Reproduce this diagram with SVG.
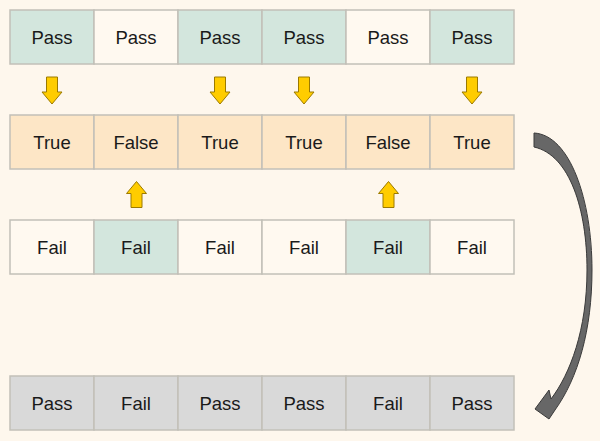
<svg xmlns="http://www.w3.org/2000/svg" width="600" height="441" viewBox="0 0 600 441">
<style>
.c{stroke:#c2c0b8;stroke-width:1.5}
.t{fill:#d3e6dd}.w{fill:#fff9f0}.o{fill:#fde6c6}.g{fill:#d9d9d9}
text{font-family:"Liberation Sans",Arial,sans-serif;font-size:18.5px;fill:#1a1a1a;text-anchor:middle}
.ya{fill:#ffcc00;stroke:#9c7a00;stroke-width:1}
</style>
<defs>
<path id="down" class="ya" d="M-5.5,-13 H5.5 V2 H10 L0,14 L-10,2 H-5.5 Z"/>
<path id="up" class="ya" d="M-5.5,13 H5.5 V-1 H10 L0,-13 L-10,-1 H-5.5 Z"/>
</defs>
<rect width="600" height="441" fill="#fef7ed"/>
<g id="row1">
<g id="r1c1"><rect class="c t" x="10" y="10" width="84" height="54"/><text x="52" y="44">Pass</text></g>
<g id="r1c2"><rect class="c w" x="94" y="10" width="84" height="54"/><text x="136" y="44">Pass</text></g>
<g id="r1c3"><rect class="c t" x="178" y="10" width="84" height="54"/><text x="220" y="44">Pass</text></g>
<g id="r1c4"><rect class="c t" x="262" y="10" width="84" height="54"/><text x="304" y="44">Pass</text></g>
<g id="r1c5"><rect class="c w" x="346" y="10" width="84" height="54"/><text x="388" y="44">Pass</text></g>
<g id="r1c6"><rect class="c t" x="430" y="10" width="84" height="54"/><text x="472" y="44">Pass</text></g>
</g>
<g id="row2">
<g id="r2c1"><rect class="c o" x="10" y="115" width="84" height="54"/><text x="52" y="149">True</text></g>
<g id="r2c2"><rect class="c o" x="94" y="115" width="84" height="54"/><text x="136" y="149">False</text></g>
<g id="r2c3"><rect class="c o" x="178" y="115" width="84" height="54"/><text x="220" y="149">True</text></g>
<g id="r2c4"><rect class="c o" x="262" y="115" width="84" height="54"/><text x="304" y="149">True</text></g>
<g id="r2c5"><rect class="c o" x="346" y="115" width="84" height="54"/><text x="388" y="149">False</text></g>
<g id="r2c6"><rect class="c o" x="430" y="115" width="84" height="54"/><text x="472" y="149">True</text></g>
</g>
<g id="row3">
<g id="r3c1"><rect class="c w" x="10" y="220" width="84" height="54"/><text x="52" y="254">Fail</text></g>
<g id="r3c2"><rect class="c t" x="94" y="220" width="84" height="54"/><text x="136" y="254">Fail</text></g>
<g id="r3c3"><rect class="c w" x="178" y="220" width="84" height="54"/><text x="220" y="254">Fail</text></g>
<g id="r3c4"><rect class="c w" x="262" y="220" width="84" height="54"/><text x="304" y="254">Fail</text></g>
<g id="r3c5"><rect class="c t" x="346" y="220" width="84" height="54"/><text x="388" y="254">Fail</text></g>
<g id="r3c6"><rect class="c w" x="430" y="220" width="84" height="54"/><text x="472" y="254">Fail</text></g>
</g>
<g id="row4">
<g id="r4c1"><rect class="c g" x="10" y="376" width="84" height="54"/><text x="52" y="410">Pass</text></g>
<g id="r4c2"><rect class="c g" x="94" y="376" width="84" height="54"/><text x="136" y="410">Fail</text></g>
<g id="r4c3"><rect class="c g" x="178" y="376" width="84" height="54"/><text x="220" y="410">Pass</text></g>
<g id="r4c4"><rect class="c g" x="262" y="376" width="84" height="54"/><text x="304" y="410">Pass</text></g>
<g id="r4c5"><rect class="c g" x="346" y="376" width="84" height="54"/><text x="388" y="410">Fail</text></g>
<g id="r4c6"><rect class="c g" x="430" y="376" width="84" height="54"/><text x="472" y="410">Pass</text></g>
</g>
<g id="connectors">
<use href="#down" x="52" y="90"/>
<use href="#down" x="220" y="90"/>
<use href="#down" x="304" y="90"/>
<use href="#down" x="472" y="90"/>
<use href="#up" x="136.5" y="194.5"/>
<use href="#up" x="388.5" y="194.5"/>
<path d="M534,133 C570,135 592,200 592,270 C592,330 578,378 555,410 L549,419 L535,409 L549,390 L551,399 C570,374 587,330 587,270 C587,210 570,155 534,147 Z" fill="#676767" stroke="#3a3a3a" stroke-width="1"/>
</g>
</svg>
